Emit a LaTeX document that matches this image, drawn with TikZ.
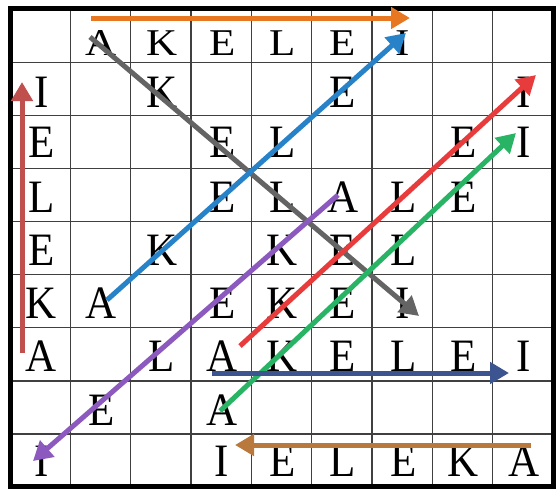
\documentclass[tikz,border=0pt]{standalone}
\usepackage{fontspec}
\usepackage{graphicx}
\setmainfont{Liberation Serif}
\usetikzlibrary{arrows.meta}
\definecolor{orangeA}{RGB}{232,119,34}
\definecolor{grayA}{RGB}{100,100,100}
\definecolor{blueA}{RGB}{40,130,200}
\definecolor{darkredA}{RGB}{192,80,77}
\definecolor{redA}{RGB}{232,60,60}
\definecolor{greenA}{RGB}{40,180,100}
\definecolor{purpleA}{RGB}{140,90,190}
\definecolor{navyA}{RGB}{60,85,145}
\definecolor{brownA}{RGB}{185,120,60}
\newcommand\wsrow[4]{%
  \foreach \ch [count=\c] in {#4}{%
    \if\ch-\else
      \node[cell] (l-\c-#1) at ({11+60.33*(\c-0.5)},#2) {\scalebox{1}[#3]{\ch}};
    \fi}}
\begin{document}
\begin{tikzpicture}[x=1pt,y=-1pt,
  cell/.style={anchor=base,inner sep=0pt,font=\fontsize{43}{43}\selectfont},
  wordarrow/.style={line width=5pt,-{Triangle[length=19pt,width=21pt]}},
  gridline/.style={line width=1.2pt,black!75}]
\useasboundingbox (0,0) rectangle (556,488);
\fill[white] (0,0) rectangle (556,488);
\foreach \i in {1,...,8} {
  \draw[gridline] ({10+60.33*\i},9.5) -- ({10+60.33*\i},487);
  \draw[gridline] (10,{9.5+53.06*\i}) -- (553,{9.5+53.06*\i});
}
\draw[line width=5pt] (10,8) rectangle (553,486);
% letters
\wsrow{1}{55}{0.88}{-,A,K,E,L,E,I,-,-}
\wsrow{2}{107}{1.08}{I,-,K,-,-,E,-,-,I}
\wsrow{3}{157}{1.08}{E,-,-,E,L,-,-,E,I}
\wsrow{4}{212}{1.08}{L,-,-,E,L,A,L,E,-}
\wsrow{5}{265}{1.08}{E,-,K,-,K,E,L,-,-}
\wsrow{6}{318}{1.08}{K,A,-,E,K,E,I,-,-}
\wsrow{7}{371}{1.08}{A,-,L,A,K,E,L,E,I}
\wsrow{8}{425}{1.08}{-,E,-,A,-,-,-,-,-}
\wsrow{9}{476}{1.08}{I,-,-,I,E,L,E,K,A}
% arrow ends
\coordinate (o1) at (91,18);   \coordinate (o2) at (410,18);
\coordinate (g1) at (90,37);   \coordinate (g2) at (419,316);
\coordinate (b1) at (107,300); \coordinate (b2) at (406,33);
\coordinate (d1) at (22,353);  \coordinate (d2) at (22,82);
\coordinate (r1) at (240,346); \coordinate (r2) at (536,75);
\coordinate (n1) at (220,411); \coordinate (n2) at (516,133);
\coordinate (p1) at (338,195); \coordinate (p2) at (33,461);
\coordinate (v1) at (212,373); \coordinate (v2) at (509,373);
\coordinate (w1) at (531,445); \coordinate (w2) at (235,445);
% arrows
\draw[wordarrow,orangeA] (o1) -- (o2);
\draw[wordarrow,grayA] (g1) -- (g2);
\draw[wordarrow,blueA] (b1) -- (b2);
\draw[wordarrow,darkredA] (d1) -- (d2);
\draw[wordarrow,redA] (r1) -- (r2);
\draw[wordarrow,greenA] (n1) -- (n2);
\draw[wordarrow,purpleA] (p1) -- (p2);
\draw[wordarrow,navyA] (v1) -- (v2);
\draw[wordarrow,brownA] (w1) -- (w2);
\end{tikzpicture}
\end{document}
